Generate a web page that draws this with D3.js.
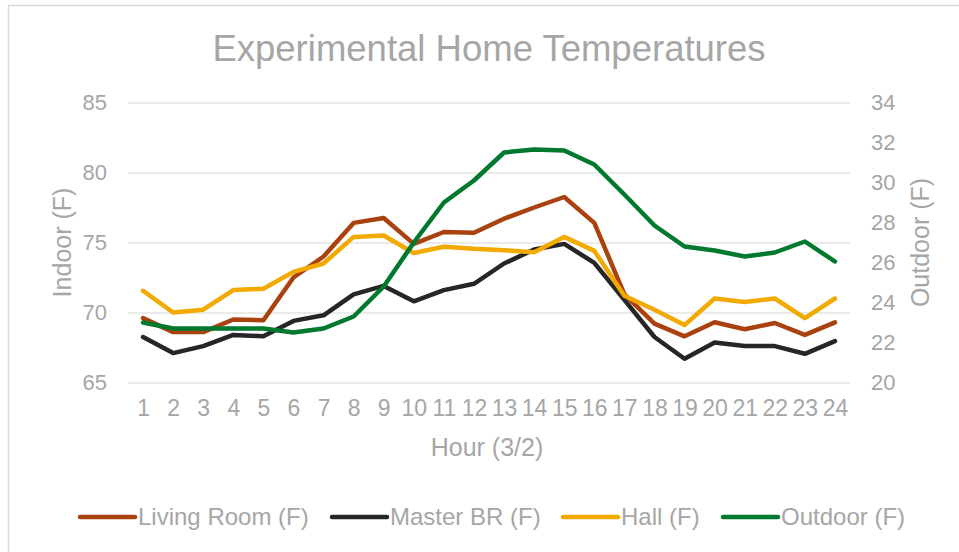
<!DOCTYPE html>
<html>
<head>
<meta charset="utf-8">
<script src="https://cdn.jsdelivr.net/npm/d3@7"></script>
<style>
  body { margin: 0; background: #fff; }
  text { font-family: "Liberation Sans", Arial, sans-serif; fill: #A6A6A6; }
</style>
</head>
<body>
<div id="chart"></div>
<script>
// hourly readings for 3/2
var hours = ["1","2","3","4","5","6","7","8","9","10","11","12","13","14","15","16","17","18","19","20","21","22","23","24"];
var livingRoom = [69.6, 68.6, 68.6, 69.5, 69.45, 72.5, 74.0, 76.4, 76.75, 74.9, 75.75, 75.7, 76.7, 77.5, 78.25, 76.4, 71.3, 69.2, 68.3, 69.3, 68.8, 69.25, 68.4, 69.3];
var masterBR = [68.25, 67.1, 67.6, 68.4, 68.3, 69.4, 69.8, 71.3, 71.9, 70.8, 71.6, 72.05, 73.5, 74.5, 74.9, 73.55, 70.9, 68.25, 66.7, 67.85, 67.6, 67.6, 67.05, 67.95];
var hall = [71.55, 70.0, 70.2, 71.6, 71.7, 72.9, 73.5, 75.4, 75.5, 74.25, 74.7, 74.55, 74.45, 74.3, 75.4, 74.4, 71.2, 70.2, 69.1, 71.0, 70.75, 71.0, 69.6, 71.0];
var outdoor = [23.0, 22.7, 22.7, 22.7, 22.7, 22.5, 22.7, 23.3, 24.8, 27.0, 29.0, 30.1, 31.5, 31.65, 31.6, 30.9, 29.4, 27.85, 26.8, 26.6, 26.3, 26.5, 27.05, 26.05];

var indoorTicks = [65, 70, 75, 80, 85];
var outdoorTicks = [20, 22, 24, 26, 28, 30, 32, 34];

var series = [
    { name: "Living Room (F)", values: livingRoom, color: "#A9420F", axis: "left" },
    { name: "Master BR (F)", values: masterBR, color: "#262626", axis: "left" },
    { name: "Hall (F)", values: hall, color: "#F2AA00", axis: "left" },
    { name: "Outdoor (F)", values: outdoor, color: "#00782D", axis: "right" }
];

var W = 959, H = 552;
var plotLeft = 128, plotRight = 850, plotTop = 102.5, plotBottom = 382.5;

var svg = d3.select("#chart").append("svg").attr("width", W).attr("height", H);

// chart frame, runs off the right and bottom like the original
svg.append("rect")
    .attr("x", 8.5).attr("y", 5.5)
    .attr("width", 980).attr("height", 580)
    .attr("fill", "none").attr("stroke", "#D9D9D9").attr("stroke-width", 1.5);

var x = d3.scalePoint().domain(hours).range([plotLeft, plotRight]).padding(0.5);
var yL = d3.scaleLinear().domain([65, 85]).range([plotBottom, plotTop]);
var yR = d3.scaleLinear().domain([20, 34]).range([plotBottom, plotTop]);

function styleTicks(size) {
    return function (g) {
        g.select(".domain").remove();
        g.selectAll("text").attr("font-size", size).attr("fill", "#A6A6A6").attr("font-family", null);
    };
}

// gridlines
svg.append("g")
    .attr("transform", "translate(" + plotLeft + ",0)")
    .call(d3.axisLeft(yL).tickValues(indoorTicks).tickSize(-(plotRight - plotLeft)).tickFormat(""))
    .call(function (g) {
        g.select(".domain").remove();
        g.selectAll("line").attr("stroke", "#E3E3E3").attr("stroke-width", 1.5);
    });

// left axis labels
svg.append("g")
    .attr("transform", "translate(" + plotLeft + ",0)")
    .call(d3.axisLeft(yL).tickValues(indoorTicks).tickSize(0).tickPadding(21))
    .call(styleTicks(22));

// right axis labels
svg.append("g")
    .attr("transform", "translate(" + plotRight + ",0)")
    .call(d3.axisRight(yR).tickValues(outdoorTicks).tickSize(0).tickPadding(21))
    .call(styleTicks(22));

// hour labels
svg.append("g")
    .attr("transform", "translate(0," + plotBottom + ")")
    .call(d3.axisBottom(x).tickSize(0).tickPadding(17))
    .call(styleTicks(23));

// lines
var line = d3.line().x(function (d, i) { return x(hours[i]); });

series.forEach(function (s) {
    var ys = s.axis == "left" ? yL : yR;
    svg.append("path")
        .datum(s.values)
        .attr("d", line.y(function (d) { return ys(d); }))
        .attr("fill", "none")
        .attr("stroke", s.color)
        .attr("stroke-width", 4.5)
        .attr("stroke-linejoin", "round")
        .attr("stroke-linecap", "round");
});

// titles
svg.append("text").attr("x", 489).attr("y", 61).attr("text-anchor", "middle")
    .attr("font-size", 36.5).text("Experimental Home Temperatures");

svg.append("text").attr("x", 487).attr("y", 456).attr("text-anchor", "middle")
    .attr("font-size", 25).text("Hour (3/2)");

svg.append("text").attr("transform", "translate(71," + ((plotTop + plotBottom) / 2) + ") rotate(-90)")
    .attr("text-anchor", "middle").attr("font-size", 25).text("Indoor (F)");

svg.append("text").attr("transform", "translate(929," + ((plotTop + plotBottom) / 2) + ") rotate(-90)")
    .attr("text-anchor", "middle").attr("font-size", 25).text("Outdoor (F)");

// legend
var legendX = [80, 332, 563, 723];
var legend = svg.selectAll("g.legend").data(series).enter().append("g")
    .attr("class", "legend")
    .attr("transform", function (d, i) { return "translate(" + legendX[i] + ",517)"; });

legend.append("line")
    .attr("x1", 0).attr("x2", 55).attr("y1", 0).attr("y2", 0)
    .attr("stroke", function (d) { return d.color; })
    .attr("stroke-width", 4.5).attr("stroke-linecap", "round");

legend.append("text")
    .attr("x", 58).attr("y", 8)
    .attr("font-size", 24)
    .text(function (d) { return d.name; });
</script>
</body>
</html>
